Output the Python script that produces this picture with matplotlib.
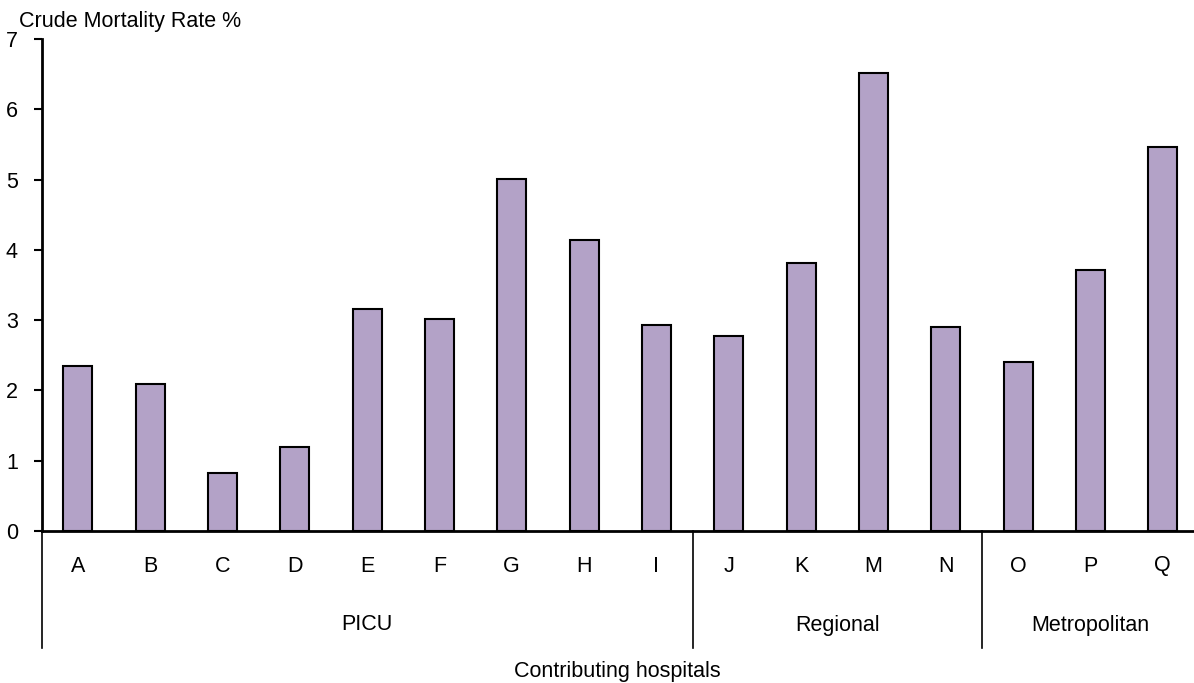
import matplotlib
matplotlib.use("Agg")
import matplotlib.pyplot as plt
import matplotlib.transforms as mtransforms

plt.rcParams['font.family'] = ['Liberation Sans', 'DejaVu Sans']

hospitals = ["A", "B", "C", "D", "E", "F", "G", "H", "I", "J", "K", "M", "N", "O", "P", "Q"]
mortality = [2.35, 2.09, 0.82, 1.20, 3.16, 3.02, 5.01, 4.14, 2.93, 2.78, 3.81, 6.51, 2.90, 2.40, 3.71, 5.46]
groups = ["PICU", "Regional", "Metropolitan"]
group_sizes = [9, 4, 3]
yticks = [0, 1, 2, 3, 4, 5, 6, 7]

FS = 15.5
W, H = 1194, 683
fig = plt.figure(figsize=(W / 100, H / 100), dpi=100)
left_px, right_px, bottom_px, top_px = 41.6, 1194, 531, 39
ax = fig.add_axes([left_px / W, 1 - bottom_px / H, (right_px - left_px) / W, (bottom_px - top_px) / H])

x = list(range(len(hospitals)))
ax.bar(x, mortality, width=0.4, color="#B3A2C7", edgecolor="black", linewidth=1.5, zorder=3)

ax.set_ylim(0, 7)
ax.set_xlim(-0.5, -0.5 + (right_px - left_px) / 72.33)
ax.set_yticks(yticks)
ax.set_yticklabels([str(t) for t in yticks], fontsize=FS)
ax.tick_params(axis='y', direction='out', length=6, width=1.5, pad=11)
ax.set_xticks(x)
ax.set_xticklabels([""] * len(hospitals))
ax.tick_params(axis='x', length=0)

for s in ['top', 'right']:
    ax.spines[s].set_visible(False)
ax.spines['left'].set_linewidth(2)
ax.spines['bottom'].set_linewidth(2)

trans = mtransforms.blended_transform_factory(ax.transData, ax.transAxes)
axh = bottom_px - top_px
for xi, lab in zip(x, hospitals):
    ax.text(xi, (bottom_px - 566) / axh, lab, transform=trans, ha='center', va='center', fontsize=FS)

ybot = (bottom_px - 648) / axh
pos = -0.5
bounds = [pos]
for gs in group_sizes:
    pos += gs
    bounds.append(pos)
for b in bounds[:-1]:
    ax.plot([b, b], [0, ybot], transform=trans, color="black", linewidth=1.2, clip_on=False)

for i, g in enumerate(groups):
    c = (bounds[i] + bounds[i + 1]) / 2
    ax.text(c, (bottom_px - 625) / axh, g, transform=trans, ha='center', va='center', fontsize=FS)

fig.text(617 / W, 1 - 671 / H, "Contributing hospitals", ha='center', va='center', fontsize=FS)
fig.text(19 / W, 1 - 22 / H, "Crude Mortality Rate %", ha='left', va='center', fontsize=FS)

fig.savefig("out.png", dpi=100)
